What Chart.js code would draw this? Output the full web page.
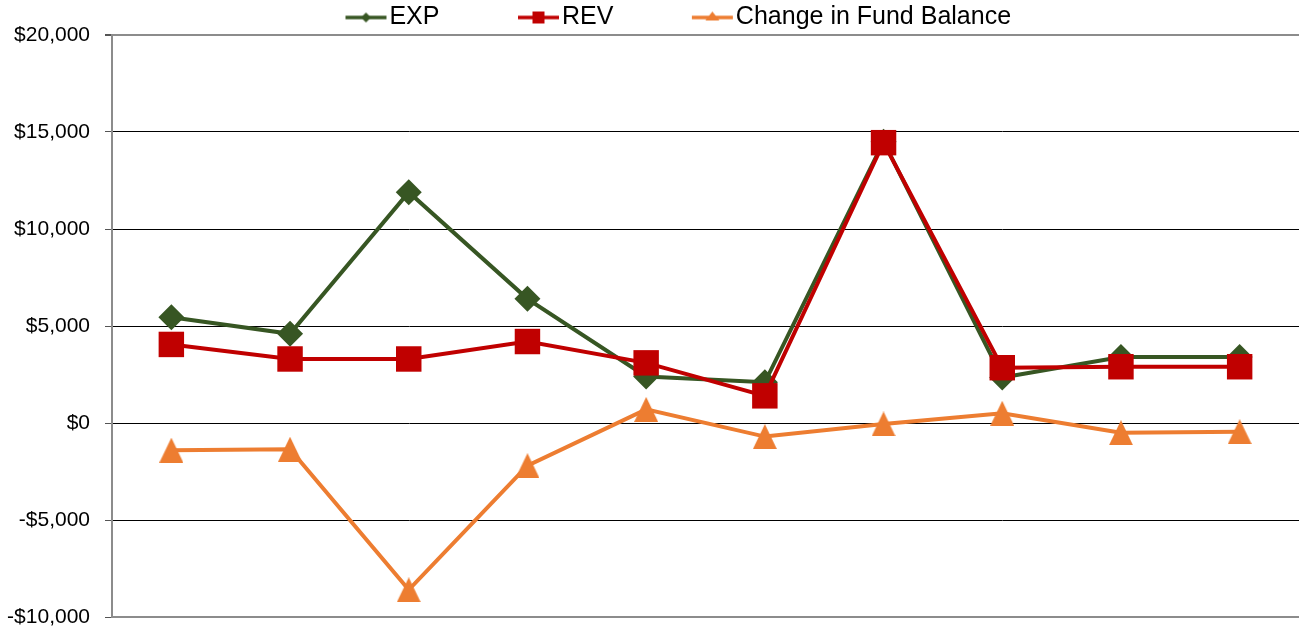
<!DOCTYPE html>
<html>
<head>
<meta charset="utf-8">
<script src="https://cdn.jsdelivr.net/npm/chart.js@4/dist/chart.umd.min.js"></script>
<style>
  html, body { margin: 0; padding: 0; background: #fff; }
  #wrap { width: 1299px; height: 630px; }
</style>
</head>
<body>
<div id="wrap"><canvas id="fundChart"></canvas></div>
<script>
const periods = ['1', '2', '3', '4', '5', '6', '7', '8', '9', '10'];
const expValues = [5450, 4600, 11900, 6400, 2400, 2100, 14500, 2350, 3400, 3400];
const revValues = [4050, 3300, 3300, 4200, 3100, 1400, 14450, 2850, 2900, 2900];
const changeValues = [-1400, -1350, -8600, -2200, 700, -700, -50, 500, -500, -450];
const yTicks = [-10000, -5000, 0, 5000, 10000, 15000, 20000];

const GREEN = '#375623';
const RED = '#C00000';
const ORANGE = '#ED7D31';
const FONT = '"Liberation Sans", Arial, sans-serif';

// triangle marker, box-centred like the original
function triangleImage(w, h, color) {
    const c = document.createElement('canvas');
    c.width = w; c.height = h;
    const g = c.getContext('2d');
    g.fillStyle = color;
    g.beginPath();
    g.moveTo(w / 2, 0);
    g.lineTo(w, h);
    g.lineTo(0, h);
    g.closePath();
    g.fill();
    return c;
}

// legend sample: short line with a small marker, drawn at the right of a wide transparent image
function legendImage(color, marker) {
    const c = document.createElement('canvas');
    c.width = 126; c.height = 20;
    const g = c.getContext('2d');
    const x0 = 84, x1 = 125, cy = 10, cx = (x0 + x1) / 2;
    g.strokeStyle = color;
    g.lineWidth = 3.5;
    g.beginPath();
    g.moveTo(x0, cy);
    g.lineTo(x1, cy);
    g.stroke();
    g.fillStyle = color;
    g.beginPath();
    if (marker === 'diamond') {
        g.moveTo(cx, cy - 5); g.lineTo(cx + 5, cy); g.lineTo(cx, cy + 5); g.lineTo(cx - 5, cy);
    } else if (marker === 'square') {
        g.rect(cx - 6, cy - 6, 12, 12);
    } else {
        g.moveTo(cx, cy - 6); g.lineTo(cx + 7, cy + 3); g.lineTo(cx - 7, cy + 3);
    }
    g.closePath();
    g.fill();
    return c;
}

const legendImages = [
    legendImage(GREEN, 'diamond'),
    legendImage(RED, 'square'),
    legendImage(ORANGE, 'triangle')
];

// nudge the legend row a little to the left, as in the original
const legendShift = {
    id: 'legendShift',
    afterLayout(chart) {
        if (chart.legend) chart.legend.left -= 16;
    }
};

const ctx = document.getElementById('fundChart').getContext('2d');

new Chart(ctx, {
    type: 'line',
    data: {
        labels: periods,
        datasets: [{
            label: 'EXP',
            data: expValues,
            order: 3,
            borderColor: GREEN,
            backgroundColor: GREEN,
            borderWidth: 4,
            pointStyle: 'rectRot',
            pointRadius: 13,
            pointBorderWidth: 0,
            tension: 0
        }, {
            label: 'REV',
            data: revValues,
            order: 2,
            borderColor: RED,
            backgroundColor: RED,
            borderWidth: 4,
            pointStyle: 'rect',
            pointRadius: 18,
            pointBorderWidth: 0,
            tension: 0
        }, {
            label: 'Change in Fund Balance',
            data: changeValues,
            order: 1,
            borderColor: ORANGE,
            backgroundColor: ORANGE,
            borderWidth: 4,
            pointStyle: triangleImage(24, 25, ORANGE),
            pointRadius: 13,
            tension: 0
        }]
    },
    plugins: [legendShift],
    options: {
        responsive: true,
        maintainAspectRatio: false,
        animation: false,
        layout: { padding: 0, autoPadding: false },
        plugins: {
            tooltip: { enabled: false },
            legend: {
                position: 'top',
                maxHeight: 35,
                labels: {
                    usePointStyle: true,
                    pointStyleWidth: 105,
                    padding: 5,
                    color: '#000',
                    font: { family: FONT, size: 25 },
                    generateLabels: (chart) => {
                        const items = Chart.defaults.plugins.legend.labels.generateLabels(chart);
                        items.sort((a, b) => a.datasetIndex - b.datasetIndex);
                        items.forEach((it) => { it.pointStyle = legendImages[it.datasetIndex]; });
                        return items;
                    }
                }
            }
        },
        scales: {
            x: {
                offset: true,
                ticks: { display: false },
                grid: { display: false, drawTicks: false },
                border: { display: true, color: '#8c8c8c', width: 2 },
                afterFit: (scale) => { scale.height = 13; }
            },
            y: {
                min: -10000,
                max: 20000,
                afterBuildTicks: (scale) => { scale.ticks = yTicks.map(v => ({ value: v })); },
                ticks: {
                    color: '#000',
                    padding: 15,
                    font: { family: FONT, size: 21 },
                    callback: (v) => (v < 0 ? '-$' : '$') + Math.abs(v).toLocaleString('en-US')
                },
                grid: {
                    color: (c) => c.tick && c.tick.value === 20000 ? '#8c8c8c' : '#000',
                    lineWidth: (c) => c.tick && c.tick.value === 20000 ? 2 : 1,
                    tickLength: 7,
                    tickColor: '#555'
                },
                border: { display: true, color: '#8c8c8c', width: 2 },
                afterFit: (scale) => {
                    scale.width = 112;
                    scale.paddingTop = 0;
                    scale.paddingBottom = 0;
                }
            }
        }
    }
});
</script>
</body>
</html>
